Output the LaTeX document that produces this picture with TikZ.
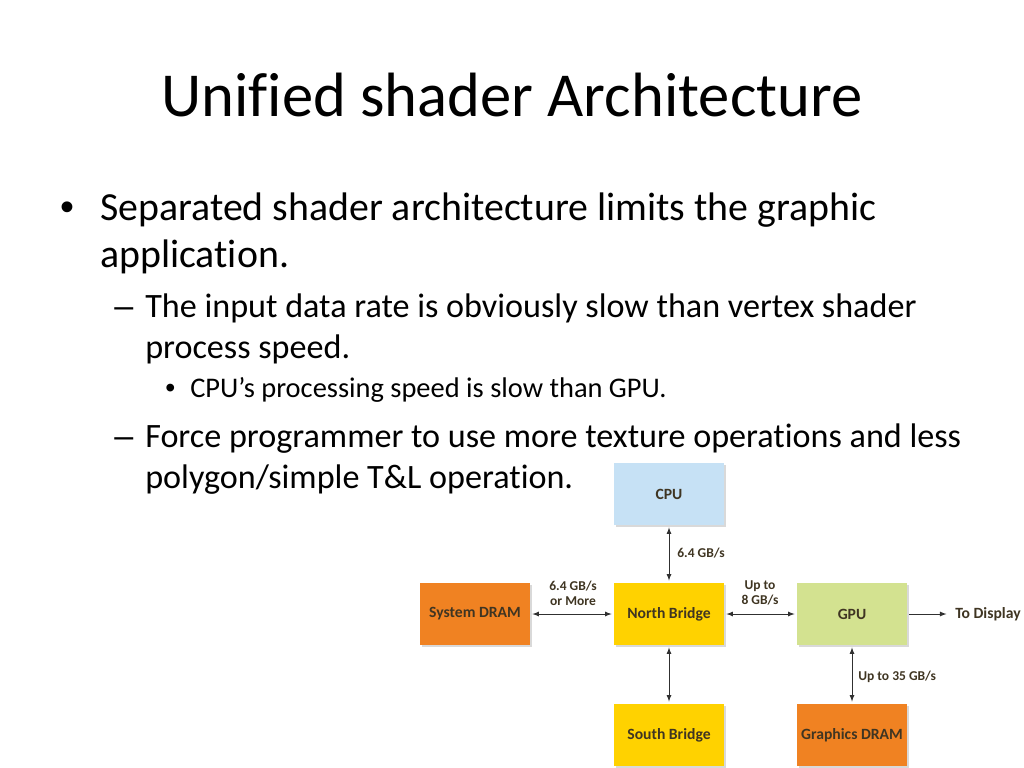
\documentclass[tikz,border=0pt]{standalone}
\usepackage{fontspec}
\setmainfont{Carlito}[Ligatures=NoCommon]
\newfontfamily\boxfont{Carlito}[Ligatures=NoCommon]
\newfontfamily\bulletfont{Liberation Sans}
\usetikzlibrary{shadows}
\definecolor{cpublue}{HTML}{C6E1F5}
\definecolor{bridgeyellow}{HTML}{FFD200}
\definecolor{dramorange}{HTML}{F08222}
\definecolor{gpugreen}{HTML}{D3E290}
\definecolor{boxtext}{HTML}{3F3522}
\definecolor{arrowgray}{HTML}{303030}
\tikzset{
  unitbox/.style={minimum width=77.3pt, minimum height=43.6pt, inner sep=0pt,
    font=\boxfont\bfseries\fontsize{11}{13}\selectfont, text=boxtext,
    drop shadow={shadow xshift=1.5pt, shadow yshift=-1.5pt, opacity=0.3}},
  bus/.style={latex-latex, semithick, arrowgray, shorten <=1.5pt, shorten >=1.5pt},
  rate/.style={font=\boxfont\bfseries\fontsize{9.5}{10.5}\selectfont, text=boxtext, inner sep=0pt, align=center},
  lvlone/.style={anchor=base west, inner sep=0pt, font=\fontsize{28}{34}\selectfont},
  lvltwo/.style={anchor=base west, inner sep=0pt, font=\fontsize{24}{29}\selectfont},
  lvlthree/.style={anchor=base west, inner sep=0pt, font=\fontsize{20}{24}\selectfont}
}
\begin{document}
\begin{tikzpicture}[x=0.703125pt, y=-0.703125pt]
  \useasboundingbox (0,0) rectangle (1024,768);
  % slide text
  \node (title) [anchor=base, inner sep=0pt, font=\fontsize{44}{53}\selectfont] at (512,117) {Unified shader Architecture};
  \node (b1) [lvlone] at (60,221) {\bulletfont •};
  \node (t1a) [lvlone] at (100,221) {Separated shader architecture limits the graphic};
  \node (t1b) [lvlone] at (100,268) {application.};
  \node (d1) [lvltwo] at (114,318) {\bulletfont –};
  \node (t2a) [lvltwo] at (145,318) {The input data rate is obviously slow than vertex shader};
  \node (t2b) [lvltwo] at (145,358) {process speed.};
  \node (b3) [lvlthree] at (165,397) {\bulletfont •};
  \node (t3a) [lvlthree] at (190,397) {CPU’s processing speed is slow than GPU.};
  \node (d2) [lvltwo] at (114,447) {\bulletfont –};
  \node (t2c) [lvltwo] at (145,447) {Force programmer to use more texture operations and less};
  \node (t2d) [lvltwo] at (145,488) {polygon/simple T\&L operation.};
  % diagram
  \node (cpu) [unitbox, fill=cpublue] at (669,494) {CPU};
  \node (north) [unitbox, fill=bridgeyellow] at (669,614) {North Bridge};
  \node (sysdram) [unitbox, fill=dramorange] at (475,614) {System DRAM};
  \node (gpu) [unitbox, fill=gpugreen] at (852,614) {GPU};
  \node (south) [unitbox, fill=bridgeyellow] at (669,735) {South Bridge};
  \node (gfxdram) [unitbox, fill=dramorange] at (852,735) {Graphics DRAM};
  \node (display) [anchor=west, inner sep=0pt, font=\boxfont\bfseries\fontsize{11}{13}\selectfont, text=boxtext] at (955,614) {To Display};
  \draw [bus] (cpu) -- (north);
  \draw [bus] (sysdram) -- (north);
  \draw [bus] (north) -- (gpu);
  \draw [bus] (north) -- (south);
  \draw [bus] (gpu) -- (gfxdram);
  \draw [-latex, semithick, arrowgray, shorten <=1.5pt, shorten >=6pt] (gpu) -- (display);
  \node (cpurate) [rate, anchor=west] at (677,553) {6.4 GB/s};
  \node (sysrate) [rate] at (573,593) {6.4 GB/s\\or More};
  \node (gpurate) [rate] at (760,593) {Up to\\8 GB/s};
  \node (gfxrate) [rate, anchor=west] at (858,677) {Up to 35 GB/s};
\end{tikzpicture}
\end{document}
